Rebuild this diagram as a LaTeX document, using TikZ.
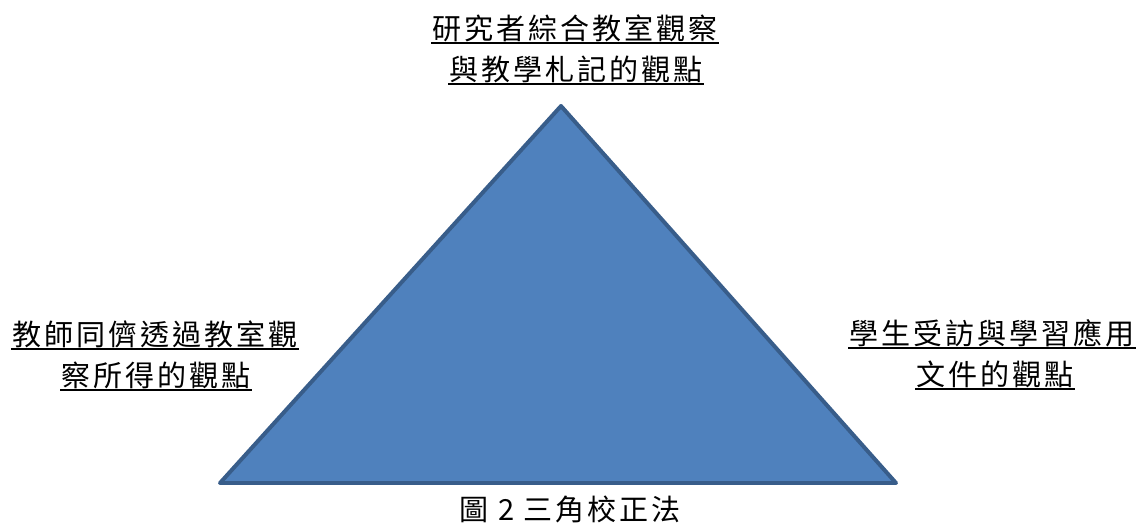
\documentclass[tikz,border=0pt]{standalone}
\usepackage{fontspec}
\newfontfamily\cjk[LetterSpace=10]{Noto Sans CJK TC}
\usepackage{xcolor}
\definecolor{triFill}{HTML}{4F81BD}
\definecolor{triLine}{HTML}{385D8A}
\usetikzlibrary{positioning}
\begin{document}
\begin{tikzpicture}[x=0.03cm,y=-0.03cm,
  lbl/.style={inner sep=1pt,font=\cjk\fontsize{24.8pt}{28pt}\selectfont},
  uline/.style={line width=1.7pt}]
  \useasboundingbox (0,0) rectangle (1137,523);
  % triangle
  \coordinate (apex) at (561,106);
  \coordinate (bl) at (220,483);
  \coordinate (br) at (896,483);
  \draw[fill=triFill,draw=triLine,line width=3.4pt,line join=round] (apex) -- (br) -- (bl) -- cycle;

  % labels
  \node[lbl] (top1) at (575,28) {研究者綜合教室觀察};
  \node[lbl] (top2) at (576,69) {與教學札記的觀點};
  \node[lbl] (left1) at (155,334) {教師同儕透過教室觀};
  \node[lbl] (left2) at (156,375) {察所得的觀點};
  \node[lbl] (right1) at (992,333) {學生受訪與學習應用};
  \node[lbl] (right2) at (995,374) {文件的觀點};
  \node[lbl] (cap) at (570,509) {圖 2 三角校正法};

  \foreach \n in {top1,top2,left1,left2,right1,right2}{
    \draw[uline] (\n.south west) -- (\n.south east);
  }
\end{tikzpicture}
\end{document}
